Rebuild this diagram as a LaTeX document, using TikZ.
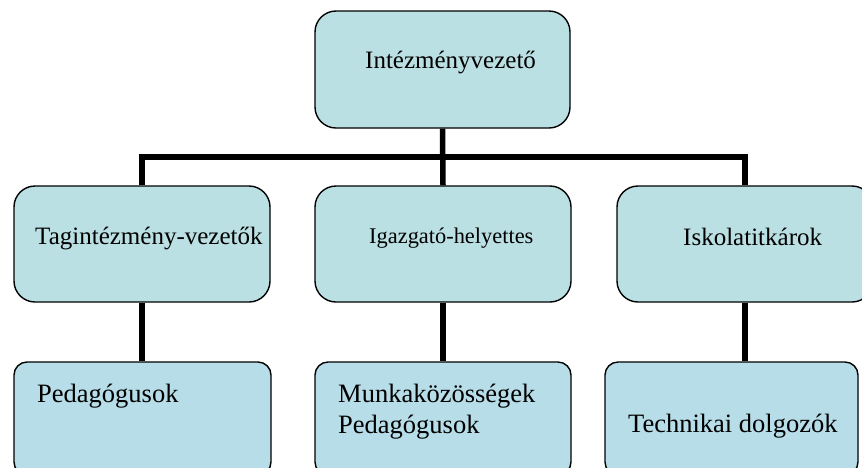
\documentclass[tikz,border=0pt]{standalone}
\usepackage{fontspec}
\setmainfont{Liberation Serif}
\usepackage{tikz}
\usetikzlibrary{positioning,calc}
\definecolor{boxcyan}{HTML}{BBE0E3}
\definecolor{boxblue}{HTML}{B7DDE8}

\begin{document}
\begin{tikzpicture}[x=1pt,y=-1pt,
		upbox/.style={draw, line width=1.4pt, fill=boxcyan, rounded corners=21pt, minimum width=256pt, minimum height=116pt, inner sep=0pt},
		lowbox/.style={draw, line width=1.4pt, fill=boxblue, rounded corners=13pt, minimum height=113pt, inner sep=0pt},
		conn/.style={line width=5.5pt},
		txt/.style={anchor=base west, inner sep=0pt, font=\fontsize{25}{30}\selectfont},
		lowtxt/.style={anchor=base west, inner sep=0pt, align=left, font=\fontsize{26.5}{31}\selectfont}]
		\useasboundingbox (0,0) rectangle (862,467);
		\begin{scope}
		\clip (0,0) rectangle (862,467);
		% boxes
		\node [upbox, minimum width=255pt, minimum height=117pt](boss) at (442.5,69.5) {};
		\node [upbox](tag) at (142,244) {};
		\node [upbox](igh) at (443,244) {};
		\node [upbox](isk) at (745,244) {};
		\node [lowbox, minimum width=257pt](ped) at (142.5,418.5) {};
		\node [lowbox, minimum width=256pt](munk) at (443,418.5) {};
		\node [lowbox, minimum width=253pt](tech) at (731.5,418.5) {};
		% connectors
		\coordinate (bus) at ($(boss.south)!0.5!(igh.north)$);
		\draw [conn] (boss.south) -- (igh.north);
		\draw [conn] (tag.north) |- (bus) -| (isk.north);
		\draw [conn] (tag.south) -- (tag.south |- ped.north);
		\draw [conn] (igh.south) -- (igh.south |- munk.north);
		\draw [conn] (isk.south) -- (isk.south |- tech.north);
		% texts
		\node [txt](boss_t) at (365,68) {Intézményvezető};
		\node [txt](tag_t) at (35,244) {Tagintézmény-vezetők};
		\node [txt, font=\fontsize{22.4}{26}\selectfont](igh_t) at (369,243) {Igazgató-helyettes};
		\node [txt](isk_t) at (683,245) {Iskolatitkárok};
		\node [lowtxt](ped_t) at (37,402) {Pedagógusok};
		\node [lowtxt](munk_t) at (338,433) {Munkaközösségek\\Pedagógusok};
		\node [lowtxt](tech_t) at (628,432) {Technikai dolgozók};
		\end{scope}
\end{tikzpicture}
\end{document}
